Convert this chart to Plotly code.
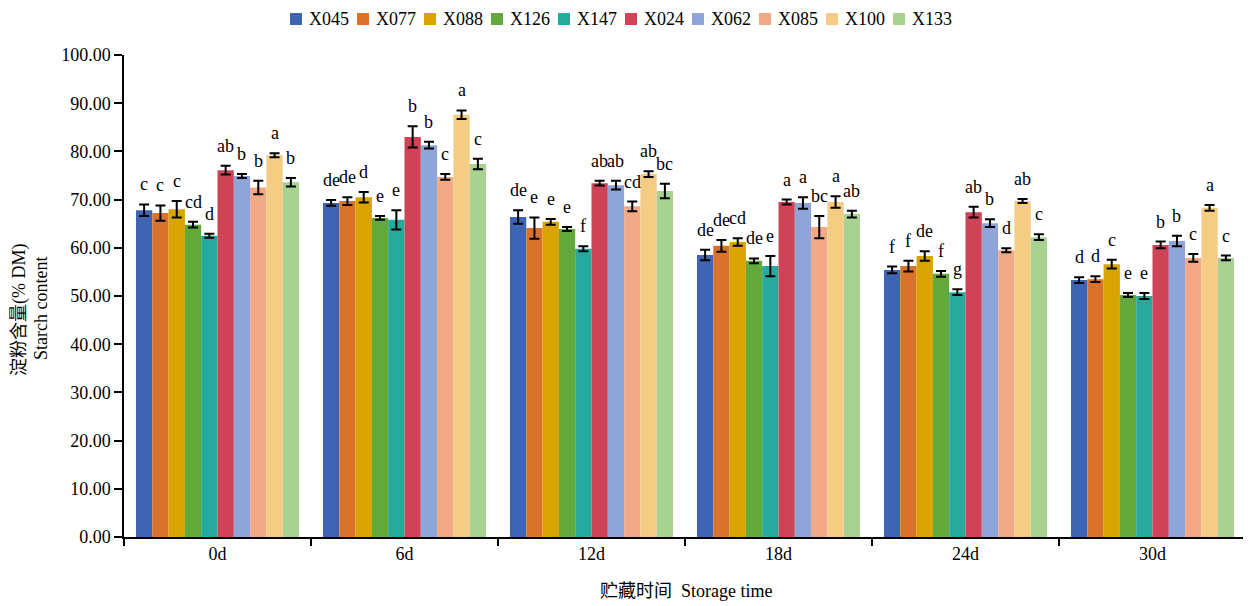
import plotly.graph_objects as go

categories = ["0d", "6d", "12d", "18d", "24d", "30d"]
series_names = ["X045", "X077", "X088", "X126", "X147", "X024", "X062", "X085", "X100", "X133"]
colors = ["#3F64B4", "#D9722A", "#D9A300", "#62A83A", "#27A99E",
          "#CE4356", "#8FA4D8", "#F2A988", "#F5CC83", "#A8D291"]

# values per series across categories
X045 = [67.8, 69.3, 66.4, 58.5, 55.4, 53.3]
X077 = [67.2, 69.7, 64.1, 60.4, 56.2, 53.5]
X088 = [68.0, 70.5, 65.4, 61.2, 58.3, 56.6]
X126 = [64.8, 66.2, 63.9, 57.3, 54.6, 50.2]
X147 = [62.5, 65.8, 59.8, 56.2, 50.8, 50.0]
X024 = [76.1, 83.0, 73.4, 69.5, 67.4, 60.6]
X062 = [74.9, 81.3, 73.0, 69.3, 65.1, 61.4]
X085 = [72.5, 74.7, 68.6, 64.3, 59.5, 57.9]
X100 = [79.2, 87.6, 75.3, 69.5, 69.7, 68.3]
X133 = [73.6, 77.4, 71.8, 67.0, 62.2, 57.9]

# error (SD)
E045 = [1.2, 0.6, 1.4, 1.1, 0.7, 0.6]
E077 = [1.6, 0.8, 2.2, 1.2, 1.1, 0.6]
E088 = [1.7, 1.1, 0.6, 0.8, 1.0, 0.9]
E126 = [0.6, 0.4, 0.4, 0.5, 0.6, 0.4]
E147 = [0.4, 2.0, 0.5, 2.1, 0.6, 0.6]
E024 = [0.9, 2.2, 0.5, 0.5, 1.1, 0.7]
E062 = [0.4, 0.7, 0.9, 1.2, 0.8, 1.1]
E085 = [1.4, 0.6, 1.0, 2.3, 0.4, 0.8]
E100 = [0.4, 0.9, 0.6, 1.2, 0.4, 0.6]
E133 = [0.9, 1.1, 1.5, 0.7, 0.6, 0.5]

# significance letters
L045 = ["c", "de", "de", "de", "f", "d"]
L077 = ["c", "de", "e", "de", "f", "d"]
L088 = ["c", "d", "e", "cd", "de", "c"]
L126 = ["cd", "e", "e", "de", "f", "e"]
L147 = ["d", "e", "f", "e", "g", "e"]
L024 = ["ab", "b", "ab", "a", "ab", "b"]
L062 = ["b", "b", "ab", "a", "b", "b"]
L085 = ["b", "c", "cd", "bc", "d", "c"]
L100 = ["a", "a", "ab", "a", "ab", "a"]
L133 = ["b", "c", "bc", "ab", "c", "c"]

values = [X045, X077, X088, X126, X147, X024, X062, X085, X100, X133]
errors = [E045, E077, E088, E126, E147, E024, E062, E085, E100, E133]
letters = [L045, L077, L088, L126, L147, L024, L062, L085, L100, L133]

y_title_cn = "淀粉含量(% DM)"
y_title_en = "Starch content"
x_title = "贮藏时间  Storage time"

FONT = "Liberation Serif, 'Times New Roman', 'Noto Sans CJK SC', serif"
FS = 18

# page has an 8px body margin; figure sized/margined to compensate
W, H = 1243, 598
ML, MR, MT, MB = 116, 5, 47, 69
BARGAP = 0.128
PLOT_L, PLOT_T = 124, 55          # page coords of plot area
PLOT_W = W - ML - MR
PLOT_H = H - MT - MB


def px_x(p):
    return (p - PLOT_L) / PLOT_W


def px_y(p):
    return (PLOT_T + PLOT_H - p) / PLOT_H


fig = go.Figure()
for name, col, v, e in zip(series_names, colors, values, errors):
    fig.add_trace(go.Bar(
        name=name, x=categories, y=v, marker=dict(color=col, line=dict(width=0)),
        error_y=dict(type="data", array=e, visible=True, color="black",
                     thickness=2, width=5),
        showlegend=False,
    ))

group_w = PLOT_W / len(categories)
bar_w = group_w * (1 - BARGAP) / len(series_names)

annotations = []
for i, (v, e, lt) in enumerate(zip(values, errors, letters)):
    for j, cat in enumerate(categories):
        annotations.append(dict(
            x=cat, y=v[j] + e[j], xref="x", yref="y", text=lt[j],
            showarrow=False, xanchor="center", yanchor="bottom",
            xshift=(i - 4.5) * bar_w, yshift=8,
            font=dict(family=FONT, size=FS, color="black"),
        ))

# legend (drawn as shapes + text to match spacing)
shapes = []
LEG_X0, LEG_PITCH, LEG_CY, SQ = 290, 67, 19, 12
for i, (name, col) in enumerate(zip(series_names, colors)):
    x0 = LEG_X0 + LEG_PITCH * i
    shapes.append(dict(type="rect", xref="paper", yref="paper",
                       x0=px_x(x0), x1=px_x(x0 + SQ),
                       y0=px_y(LEG_CY + SQ / 2), y1=px_y(LEG_CY - SQ / 2),
                       fillcolor=col, line=dict(width=0)))
    annotations.append(dict(
        x=px_x(x0 + SQ + 6), y=px_y(LEG_CY), xref="paper", yref="paper",
        text=name, showarrow=False, xanchor="left", yanchor="middle",
        borderpad=0,
        font=dict(family=FONT, size=FS, color="black"),
    ))

annotations.append(dict(
    x=px_x(19), y=px_y(310), xref="paper", yref="paper", textangle=-90,
    text=y_title_cn, showarrow=False, xanchor="center", yanchor="middle",
    borderpad=0, font=dict(family=FONT, size=FS, color="black"),
))
annotations.append(dict(
    x=px_x(41), y=px_y(309), xref="paper", yref="paper", textangle=-90,
    text=y_title_en, showarrow=False, xanchor="center", yanchor="middle",
    borderpad=0, font=dict(family=FONT, size=FS, color="black"),
))
annotations.append(dict(
    x=px_x(686), y=px_y(591), xref="paper", yref="paper",
    text=x_title, showarrow=False,
    xanchor="center", yanchor="middle",
    font=dict(family=FONT, size=FS, color="black"),
))

fig.update_layout(
    width=W, height=H,
    margin=dict(l=ML, r=MR, t=MT, b=MB, autoexpand=False),
    paper_bgcolor="white", plot_bgcolor="white",
    barmode="group", bargap=BARGAP, bargroupgap=0,
    font=dict(family=FONT, size=FS, color="black"),
    showlegend=False,
    annotations=annotations,
    shapes=shapes,
    xaxis=dict(showline=True, linecolor="black", linewidth=1.5, ticks="outside",
               tickson="boundaries", ticklen=7, tickwidth=1.5, tickcolor="black",
               showgrid=False, tickfont=dict(family=FONT, size=FS)),
    yaxis=dict(range=[0, 100], dtick=10, tickformat=".2f", showline=True,
               linecolor="black", linewidth=1.5, ticks="outside", ticklen=8,
               tickwidth=1.5, tickcolor="black", showgrid=False, zeroline=False,
               tickfont=dict(family=FONT, size=FS)),
)

fig.write_html("out.html")
